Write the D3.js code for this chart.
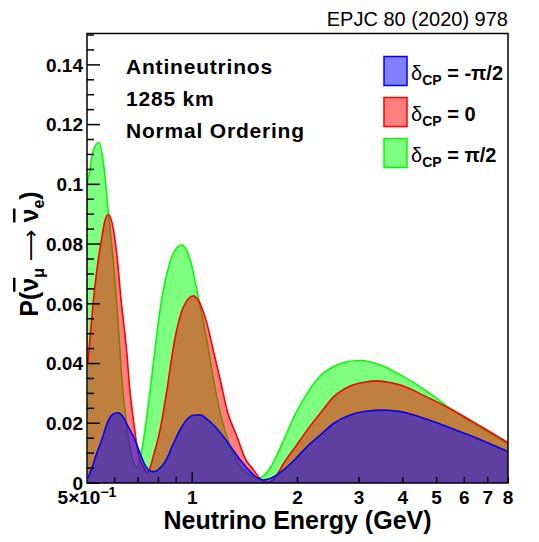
<!DOCTYPE html>
<html>
<head>
<meta charset="utf-8">
<script src="https://cdn.jsdelivr.net/npm/d3@7"></script>
<style>
  body { margin: 0; background: #fff; }
  svg { display: block; font-family: "Liberation Sans", Arial, sans-serif; }
</style>
</head>
<body>
<div id="chart"></div>
<script>
// delta_CP = +pi/2 (green)
const energyPiHalf = [0.5, 0.51, 0.52, 0.541, 0.56, 0.576, 0.595, 0.615, 0.628, 0.642, 0.662, 0.68, 0.695, 0.712,
  0.741, 0.774, 0.809, 0.846, 0.884, 0.934, 0.985, 1.031, 1.10, 1.151, 1.21, 1.285, 1.372, 1.434, 1.55, 1.67,
  1.826, 1.97, 2.131, 2.33, 2.54, 2.75, 3.03, 3.45, 3.94, 4.65, 5.5, 6.7, 8];
const probPiHalf = [0.100, 0.105, 0.111, 0.114, 0.105, 0.090, 0.074, 0.052, 0.036, 0.0245, 0.0125, 0.0068, 0.0052, 0.0088,
  0.022, 0.040, 0.058, 0.070, 0.077, 0.0797, 0.075, 0.0646, 0.048, 0.0345, 0.022, 0.0122, 0.0055, 0.0032, 0.0016, 0.005,
  0.0144, 0.023, 0.030, 0.036, 0.039, 0.0405, 0.041, 0.0395, 0.0362, 0.031, 0.0247, 0.0185, 0.0130];

// delta_CP = 0 (red)
const energyZero = [0.503, 0.513, 0.527, 0.537, 0.551, 0.563, 0.576, 0.59, 0.608, 0.625, 0.65, 0.662, 0.679, 0.70,
  0.725, 0.741, 0.757, 0.774, 0.809, 0.846, 0.884, 0.91, 0.944, 1.008, 1.054, 1.101, 1.151, 1.203, 1.26, 1.343,
  1.42, 1.498, 1.57, 1.64, 1.73, 1.826, 1.97, 2.131, 2.33, 2.54, 2.83, 3.13, 3.38, 3.69, 3.94, 4.65, 5.5, 6.7, 8];
const probZero = [0.040, 0.052, 0.066, 0.0737, 0.082, 0.088, 0.090, 0.087, 0.077, 0.062, 0.0435, 0.032, 0.021, 0.010,
  0.0055, 0.0035, 0.005, 0.009, 0.0178, 0.031, 0.0457, 0.053, 0.059, 0.0627, 0.060, 0.0535, 0.044, 0.0345, 0.024, 0.0155,
  0.008, 0.0044, 0.0012, 0.0002, 0.002, 0.0066, 0.012, 0.0177, 0.0235, 0.0289, 0.0325, 0.0338, 0.0342, 0.0336, 0.0328,
  0.029, 0.0247, 0.0189, 0.0135];

// delta_CP = -pi/2 (blue)
const energyMinusPiHalf = [0.503, 0.52, 0.533, 0.551, 0.567, 0.582, 0.598, 0.615, 0.635, 0.655, 0.686, 0.709, 0.733,
  0.752, 0.774, 0.80, 0.84, 0.884, 0.925, 0.97, 1.006, 1.054, 1.10, 1.16, 1.229, 1.30, 1.372, 1.46, 1.53, 1.60, 1.67,
  1.826, 1.97, 2.131, 2.33, 2.54, 2.83, 3.13, 3.53, 3.94, 4.65, 5.5, 6.7, 8];
const probMinusPiHalf = [0.0017, 0.006, 0.010, 0.0144, 0.019, 0.022, 0.0233, 0.0235, 0.022, 0.019, 0.0144, 0.010, 0.006,
  0.0043, 0.0038, 0.0045, 0.0075, 0.0133, 0.018, 0.0215, 0.0227, 0.0228, 0.0215, 0.019, 0.0155, 0.0115, 0.0077, 0.004,
  0.0018, 0.001, 0.0015, 0.0044, 0.008, 0.0122, 0.0162, 0.020, 0.0228, 0.0240, 0.0244, 0.0239, 0.0215, 0.0183, 0.0144,
  0.0105];

const legendLabels = ["-π/2", "0", "π/2"];
const infoLines = ["Antineutrinos", "1285 km", "Normal Ordering"];
const yTickValues = [0, 0.02, 0.04, 0.06, 0.08, 0.1, 0.12, 0.14];
const xLabelValues = [0.5, 1, 2, 3, 4, 5, 6, 7, 8];

const width = 539, height = 542;
const margin = { top: 33.5, right: 31, bottom: 59, left: 87 };

const svg = d3.select("#chart").append("svg")
  .attr("width", width)
  .attr("height", height);

const x = d3.scaleLog()
  .domain([0.5, 8])
  .range([margin.left, width - margin.right]);
const y = d3.scaleLinear()
  .domain([0, 0.1505])
  .range([height - margin.bottom, margin.top]);

const series = [
  { e: energyPiHalf, p: probPiHalf, color: "#00ff00" },
  { e: energyZero, p: probZero, color: "#ff0000" },
  { e: energyMinusPiHalf, p: probMinusPiHalf, color: "#0000ff" }
];

const area = d3.area()
  .x(d => x(d[0]))
  .y0(y(0))
  .y1(d => y(d[1]))
  .curve(d3.curveMonotoneX);
const line = area.lineY1();

const plot = svg.append("g");
plot.append("clipPath").attr("id", "clip")
  .append("rect")
  .attr("x", x.range()[0]).attr("y", y.range()[1])
  .attr("width", x.range()[1] - x.range()[0])
  .attr("height", y.range()[0] - y.range()[1]);

series.forEach(s => {
  const pts = d3.zip(s.e, s.p);
  const g = plot.append("g").attr("clip-path", "url(#clip)");
  g.append("path").datum(pts)
    .attr("d", area)
    .attr("fill", s.color)
    .attr("fill-opacity", 0.5);
  g.append("path").datum(pts)
    .attr("d", line)
    .attr("fill", "none")
    .attr("stroke", s.color)
    .attr("stroke-width", 1.6);
});

// frame
svg.append("rect")
  .attr("x", x.range()[0]).attr("y", y.range()[1])
  .attr("width", x.range()[1] - x.range()[0])
  .attr("height", y.range()[0] - y.range()[1])
  .attr("fill", "none")
  .attr("stroke", "#000")
  .attr("stroke-width", 1.5);

// y axis ticks (inside)
const yMinor = d3.range(0, 0.1501, 0.005);
svg.append("g").selectAll("line")
  .data(yMinor)
  .join("line")
  .attr("x1", x.range()[0])
  .attr("x2", (d, i) => x.range()[0] + (i % 4 === 0 ? 13 : 7))
  .attr("y1", d => y(d)).attr("y2", d => y(d))
  .attr("stroke", "#000").attr("stroke-width", 1.5);

svg.append("g")
  .attr("font-size", 19).attr("font-weight", "bold")
  .selectAll("text")
  .data(yTickValues)
  .join("text")
  .attr("x", x.range()[0] - 4)
  .attr("y", d => y(d))
  .attr("dy", "0.36em")
  .attr("text-anchor", "end")
  .text(d => d3.format("~g")(d));

// x axis ticks (inside)
const xMinor = [0.6, 0.7, 0.8, 0.9, 1, 2, 3, 4, 5, 6, 7, 8];
svg.append("g").selectAll("line")
  .data(xMinor)
  .join("line")
  .attr("x1", d => x(d)).attr("x2", d => x(d))
  .attr("y1", y.range()[0])
  .attr("y2", d => y.range()[0] - (d === 1 ? 11 : 6))
  .attr("stroke", "#000").attr("stroke-width", 1.5);

const xl = svg.append("g")
  .attr("font-size", 19).attr("font-weight", "bold")
  .selectAll("text")
  .data(xLabelValues)
  .join("text")
  .attr("x", d => x(d))
  .attr("y", 504)
  .attr("text-anchor", "middle");
xl.each(function(d) {
  const t = d3.select(this);
  if (d === 0.5) {
    t.append("tspan").text("5×10");
    t.append("tspan").attr("dy", -7).attr("font-size", 14).text("−1");
  } else {
    t.text(d);
  }
});

// axis titles
svg.append("text")
  .attr("x", (x.range()[0] + x.range()[1]) / 2)
  .attr("y", 529)
  .attr("text-anchor", "middle")
  .attr("font-size", 25).attr("font-weight", "bold")
  .text("Neutrino Energy (GeV)");

const yt = svg.append("text")
  .attr("transform", "translate(38,254) rotate(-90)")
  .attr("text-anchor", "middle")
  .attr("font-size", 25).attr("font-weight", "bold");
yt.append("tspan").text("P(");
yt.append("tspan").style("text-decoration", "overline").text("ν");
yt.append("tspan").attr("dy", 6).attr("font-size", 16).text("μ");
yt.append("tspan").attr("dy", -6).attr("font-weight", "normal")
  .attr("font-family", "DejaVu Sans").attr("font-size", 22).text(" ⟶ ");
yt.append("tspan").style("text-decoration", "overline").text("ν");
yt.append("tspan").attr("dy", 6).attr("font-size", 16).text("e");
yt.append("tspan").attr("dy", -6).text(")");

// publication reference
svg.append("text")
  .attr("x", 508).attr("y", 26)
  .attr("text-anchor", "end")
  .attr("font-size", 20)
  .text("EPJC 80 (2020) 978");

// info text
svg.append("g")
  .attr("font-size", 21).attr("font-weight", "bold")
  .attr("letter-spacing", 0.8)
  .selectAll("text")
  .data(infoLines)
  .join("text")
  .attr("x", 126)
  .attr("y", (d, i) => 74 + i * 32)
  .text(d => d);

// legend
const legendColors = ["#0000ff", "#ff0000", "#00ff00"];
const leg = svg.append("g").selectAll("g")
  .data(legendLabels)
  .join("g")
  .attr("transform", (d, i) => `translate(384,${56.5 + i * 41})`);
leg.append("rect")
  .attr("width", 23).attr("height", 29)
  .attr("fill", (d, i) => legendColors[i]).attr("fill-opacity", 0.5)
  .attr("stroke", (d, i) => legendColors[i]).attr("stroke-width", 1.5);
const lt = leg.append("text")
  .attr("x", 27).attr("y", 23)
  .attr("font-size", 20).attr("font-weight", "bold");
lt.append("tspan").attr("font-weight", "normal").text("δ");
lt.append("tspan").attr("dy", 5).attr("font-size", 14).text("CP");
lt.append("tspan").attr("dy", -5).text(d => " = " + d);
</script>
</body>
</html>
